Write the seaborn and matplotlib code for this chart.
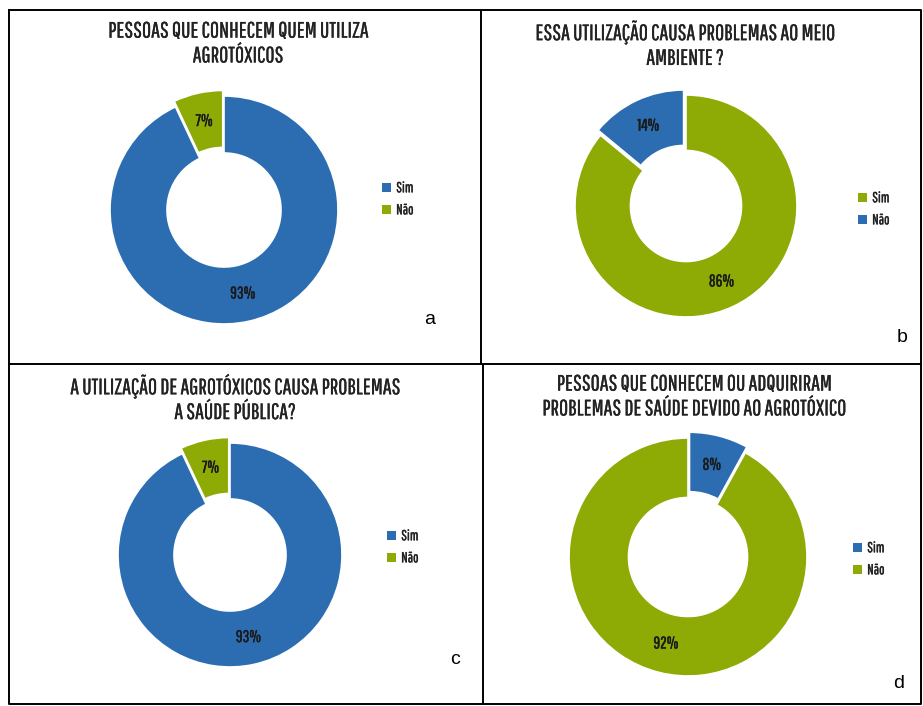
import matplotlib
matplotlib.use("Agg")
import matplotlib.pyplot as plt
import matplotlib.patheffects as pe
from matplotlib.patches import Patch
from matplotlib import font_manager
import seaborn as sns

sns.set_theme(style="white")

installed = {f.name for f in font_manager.fontManager.ttflist}
COND = next((n for n in ["Pathway Gothic One", "Barlow Condensed",
                         "Roboto Condensed", "Archivo Narrow",
                         "Asap Condensed"] if n in installed), "DejaVu Sans")
plt.rcParams["font.family"] = [COND, "DejaVu Sans"]

BLUE = "#2C6DB2"
GREEN = "#8DAA05"
INK = "#222222"


def thicken(width, color=INK):
    return [pe.withStroke(linewidth=width, foreground=color)]


categories = ["Sim", "Não"]

titles = [
    "PESSOAS QUE CONHECEM QUEM UTILIZA\nAGROTÓXICOS",
    "ESSA UTILIZAÇÃO CAUSA PROBLEMAS AO MEIO\nAMBIENTE ?",
    "A UTILIZAÇÃO DE AGROTÓXICOS CAUSA PROBLEMAS\nA SAÚDE PÚBLICA?",
    "PESSOAS QUE CONHECEM OU ADQUIRIRAM\nPROBLEMAS DE SAÚDE DEVIDO AO AGROTÓXICO",
]
panel_letters = ["a", "b", "c", "d"]

values_a = [93, 7]
values_b = [86, 14]
values_c = [93, 7]
values_d = [8, 92]
panel_values = [values_a, values_b, values_c, values_d]

colors_a = [BLUE, GREEN]
colors_b = [GREEN, BLUE]
colors_c = [BLUE, GREEN]
colors_d = [BLUE, GREEN]
panel_colors = [colors_a, colors_b, colors_c, colors_d]

W, H = 923, 706
fig = plt.figure(figsize=(W / 100, H / 100), dpi=100)


def px_axes(x0, y0, w, h):
    return fig.add_axes([x0 / W, 1 - (y0 + h) / H, w / W, h / H])


# table frame
frame = px_axes(0, 0, W, H)
frame.set_xlim(0, W)
frame.set_ylim(H, 0)
frame.axis("off")
lw = 1.4
frame.plot([9, 921, 921, 9, 9], [10, 10, 704, 704, 10], color="black", lw=lw)
frame.plot([481, 481], [10, 364], color="black", lw=lw)
frame.plot([483, 483], [364, 704], color="black", lw=lw)
frame.plot([9, 921], [364, 364], color="black", lw=lw)

# layout of each panel (pixel units)
donut_centers = [(224, 210), (686, 206), (230, 555), (688, 557)]
donut_radius = [114, 111, 112, 119]
title_pos = [(238, 44), (685, 45), (235, 399), (694, 397)]
legend_pos = [(375, 174), (851, 184), (380, 522), (846, 534)]
letter_pos = [(430, 320), (902, 338), (455, 660), (899, 684)]

L = 1.3
for i in range(4):
    cx, cy = donut_centers[i]
    R = donut_radius[i]
    side = 2 * L * R
    ax = px_axes(cx - side / 2, cy - side / 2, side, side)
    vals = panel_values[i]
    small = vals.index(min(vals))
    explode = [0.05 if k == small else 0 for k in range(len(vals))]
    wedges, _, autotexts = ax.pie(
        vals,
        colors=panel_colors[i],
        startangle=90,
        counterclock=False,
        explode=explode,
        radius=1,
        autopct="%1.0f%%",
        pctdistance=0.75,
        wedgeprops=dict(width=0.5, edgecolor="white", linewidth=1.2),
        textprops=dict(fontsize=12, color="#1a1a1a"),
    )
    for t in autotexts:
        t.set_path_effects(thicken(0.3, "#1a1a1a"))
    ax.set_xlim(-L, L)
    ax.set_ylim(-L, L)
    ax.set_aspect("equal")
    ax.axis("off")

    tx, ty = title_pos[i]
    fig.text(tx / W, 1 - ty / H, titles[i], ha="center", va="center",
             fontsize=16, color=INK, linespacing=1.3,
             path_effects=thicken(0.2))

    handles = [Patch(facecolor=c, edgecolor="none") for c in panel_colors[i]]
    lx, ly = legend_pos[i]
    leg = fig.legend(handles, categories, loc="upper left",
                     bbox_to_anchor=(lx / W, 1 - ly / H), frameon=False,
                     fontsize=10.5, handlelength=0.6, handleheight=0.6,
                     handletextpad=0.35, labelspacing=0.55, borderpad=0,
                     labelcolor=INK)
    for t in leg.get_texts():
        t.set_path_effects(thicken(0.25))

    gx, gy = letter_pos[i]
    fig.text(gx / W, 1 - gy / H, panel_letters[i], ha="center", va="center",
             fontsize=14, color="black", family="Liberation Sans")

fig.savefig("out.png", dpi=100, facecolor="white")
